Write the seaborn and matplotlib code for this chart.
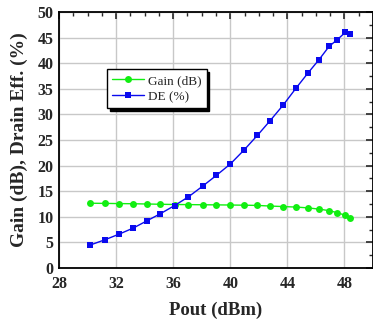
import numpy as np
import pandas as pd
import seaborn as sns
import matplotlib
matplotlib.use("Agg")
import matplotlib.pyplot as plt
from matplotlib.ticker import MultipleLocator

pout = [30.2, 31.2, 32.2, 33.2, 34.15, 35.1, 36.1, 37.07, 38.07, 39.03, 40.0,
        40.95, 41.9, 42.8, 43.7, 44.6, 45.42, 46.22, 46.93, 47.5, 48.05, 48.38]
gain = [12.65, 12.62, 12.58, 12.55, 12.5, 12.45, 12.4, 12.38, 12.35, 12.33, 12.3,
        12.27, 12.22, 12.1, 12.0, 11.9, 11.75, 11.5, 11.2, 10.8, 10.3, 9.7]
de = [4.5, 5.5, 6.6, 7.8, 9.2, 10.6, 12.2, 13.9, 16.0, 18.1, 20.3,
      23.0, 25.9, 28.8, 31.8, 35.1, 38.0, 40.7, 43.3, 44.6, 46.0, 45.75]

df = pd.DataFrame({"Pout": pout, "Gain (dB)": gain, "DE (%)": de})

sns.set_style("white")
plt.rcParams["font.family"] = ["Liberation Serif", "DejaVu Serif"]
plt.rcParams["font.weight"] = "bold"
plt.rcParams["axes.labelweight"] = "bold"

fig = plt.figure(figsize=(3.73, 3.2), dpi=100)
ax = fig.add_axes([59/373, 1 - 268/320, 314/373, 256/320])

sns.lineplot(data=df, x="Pout", y="Gain (dB)", ax=ax, color="#11ee11", marker="o",
             markersize=5.0, markeredgewidth=0, linewidth=1.0, label="Gain (dB)")
sns.lineplot(data=df, x="Pout", y="DE (%)", ax=ax, color="#0a0aee", marker="s",
             markersize=4.8, markeredgewidth=0, linewidth=1.0, label="DE (%)")

ax.set_xlim(28, 50)
ax.set_ylim(0, 50)
ax.xaxis.set_major_locator(MultipleLocator(4))
ax.xaxis.set_minor_locator(MultipleLocator(1))
ax.yaxis.set_major_locator(MultipleLocator(5))
ax.yaxis.set_minor_locator(MultipleLocator(2.5))
ax.grid(True, which="major", color="#c8c8c8", linewidth=1.0)
ax.set_axisbelow(True)
ax.tick_params(which="both", direction="in", top=True, right=True, labelsize=11.5)
ax.tick_params(axis="x", which="major", pad=6)
ax.tick_params(axis="y", which="major", pad=4)
ax.tick_params(which="major", length=5, width=1.2)
ax.tick_params(which="minor", length=3, width=1.0)
for s in ax.spines.values():
    s.set_color("black")
    s.set_linewidth(1.3)

ax.set_xlabel("Pout (dBm)", fontsize=13.5, fontweight="bold", labelpad=7)
ax.set_ylabel("Gain (dB), Drain Eff. (%)", fontsize=14, fontweight="bold", labelpad=7)

leg = ax.legend(loc="upper left", bbox_to_anchor=(0.152, 0.776),
                prop={"size": 9.5, "weight": "normal"},
                frameon=True, fancybox=False, shadow={"color": "black", "alpha": 1.0},
                handlelength=2.4, borderpad=0.4, labelspacing=0.3, handletextpad=0.3,
                borderaxespad=0)
leg.get_frame().set_edgecolor("black")
leg.get_frame().set_linewidth(1.0)

fig.savefig("out.png", dpi=100)
